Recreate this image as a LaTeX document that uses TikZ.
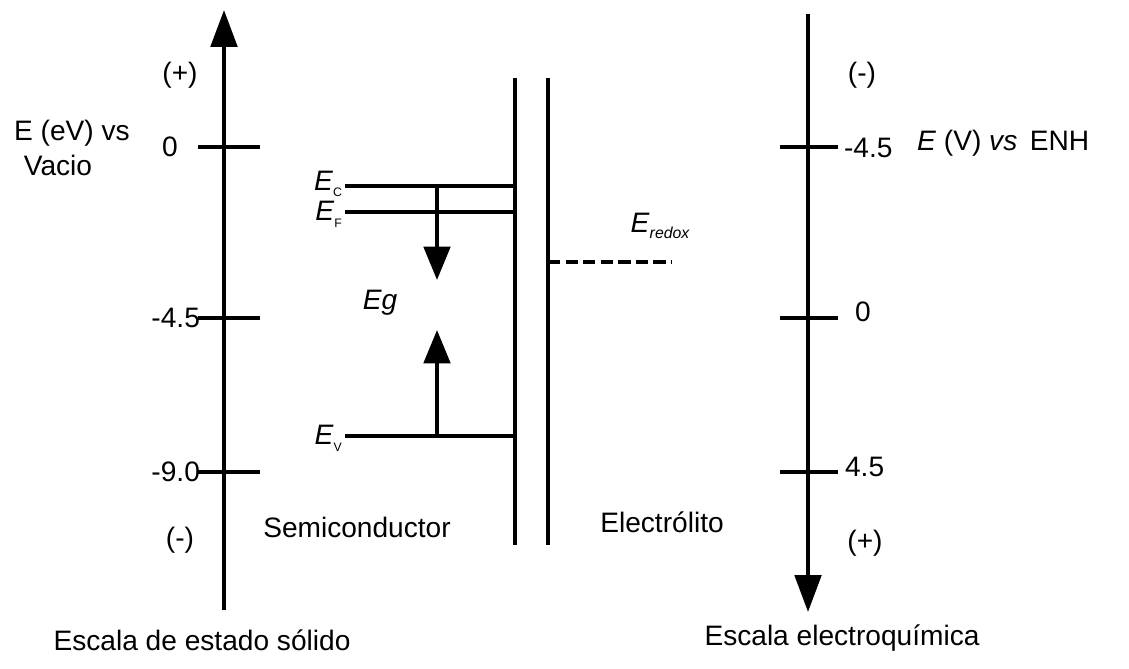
\documentclass[tikz,border=0pt]{standalone}
\usepackage{fontspec}
\setmainfont{Liberation Sans}
\usetikzlibrary{arrows.meta,positioning}
\newcommand{\Esub}[1]{\textit{E}\raisebox{-0.45ex}{\scriptsize #1}}
\tikzset{ax/.style={line width=2.3pt},
 axarr/.style={line width=2.3pt,-{Triangle[length=21pt,width=15pt]}},
 gap/.style={line width=2.3pt,-{Triangle[length=19pt,width=15pt]}},
 lvl/.style={line width=2.3pt},
 tk/.style={line width=2.3pt},
 lab/.style={font=\fontsize{16}{18}\selectfont,inner sep=1pt}}
\begin{document}
\begin{tikzpicture}[x=0.02cm,y=-0.02cm]
\useasboundingbox (0,0) rectangle (1129,669);
% left scale
\coordinate (lb) at (224,610);\coordinate (lt) at (224,10);
\draw[axarr](lb)--(lt);
\foreach \y/\n in {147/l0,318/l1,472/l2}{\coordinate(\n a) at (198,\y);\coordinate(\n b) at (260,\y);\draw[tk](\n a)--(\n b);}
\node[lab] (lp) at (180,75){(+)};
\node[lab] (lt1) at (72,133){E (eV) vs};\node[lab] (lt2) at (58,165){Vacio};
\node[lab] (l0) at (170,147){0};
\node[lab,anchor=east] (l1) at (202,318){-4.5};
\node[lab,anchor=east] (l2) at (202,472){-9.0};
\node[lab] (lm) at (180,540){(-)};
\node[lab] (sc) at (357,527){Semiconductor};
\node[lab] (ls) at (202,640){Escala de estado sólido};
% interface
\coordinate (s1) at (515,78);\coordinate (s2) at (515,545);
\coordinate (e1) at (548,78);\coordinate (e2) at (548,545);
\draw[ax](s1)--(s2);\draw[ax](e1)--(e2);
% bands
\coordinate (c1) at (345,186);\coordinate (c2) at (515,186);
\coordinate (f1) at (345,212);\coordinate (f2) at (515,212);
\coordinate (v1) at (345,436);\coordinate (v2) at (515,436);
\draw[lvl](c1)--(c2);\draw[lvl](f1)--(f2);\draw[lvl](v1)--(v2);
\node[lab,anchor=east] (ec) at (344,184){\Esub{C}};
\node[lab,anchor=east] (ef) at (344,214){\Esub{F}};
\node[lab,anchor=east] (ev) at (344,438){\Esub{V}};
\coordinate (g1) at (437,186);\coordinate (g2) at (437,280);
\coordinate (g3) at (437,436);\coordinate (g4) at (437,330);
\draw[gap](g1)--(g2);\draw[gap](g3)--(g4);
\node[lab] (eg) at (380,303){\textit{Eg}};
% redox level
\coordinate (r1) at (548,262);\coordinate (r2) at (672,262);
\draw[lvl,dashed,dash pattern=on 7pt off 3pt](r1)--(r2);
\node[lab] (er) at (660,226){\textit{E}\raisebox{-0.45ex}{\itshape\small redox}};
\node[lab] (el) at (662,522){Electrólito};
% right scale
\coordinate (rt) at (808,14);\coordinate (rb) at (808,612);
\draw[axarr](rt)--(rb);
\foreach \y/\n in {147/r0,318/r1,472/r2}{\coordinate(\n a) at (780,\y);\coordinate(\n b) at (838,\y);\draw[tk](\n a)--(\n b);}
\node[lab] (rm) at (862,75){(-)};
\node[lab,anchor=west] (q0) at (842,148){-4.5};
\node[lab,anchor=west] (rtl) at (915,143){\textit{E} (V) \textit{vs}\, ENH};
\node[lab,anchor=west] (q1) at (853,312){0};
\node[lab,anchor=west] (q2) at (843,467){4.5};
\node[lab] (rp) at (865,543){(+)};
\node[lab] (rs) at (842,638){Escala electroquímica};
\end{tikzpicture}
\end{document}
